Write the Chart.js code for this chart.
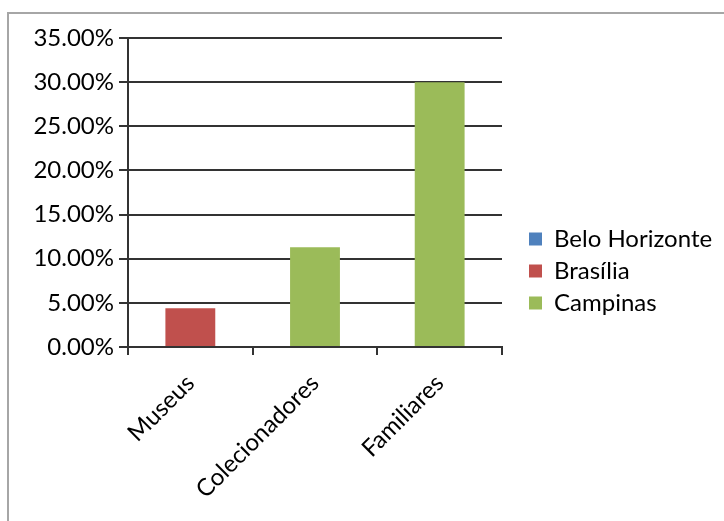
<!DOCTYPE html>
<html>
<head>
<meta charset="utf-8">
<script src="https://cdn.jsdelivr.net/npm/chart.js@4.4.1/dist/chart.umd.min.js"></script>
<style>
  html, body { margin: 0; padding: 0; background: #fff; overflow: hidden; }
  #frame { position: absolute; left: 7px; top: 12px; width: 800px; height: 600px;
           border: 2px solid #a6a6a6; box-sizing: border-box; }
  #wrap { position: absolute; left: 0; top: 0; width: 724px; height: 521px; }
</style>
</head>
<body>
<div id="frame"></div>
<div id="wrap"><canvas id="c" width="724" height="521"></canvas></div>
<script>
// Share of items by origin, per city (percent)
const categories = ['Museus', 'Colecionadores', 'Familiares'];
const seriesNames = ['Belo Horizonte', 'Brasília', 'Campinas'];
const beloHorizonte = [0, 0, 0];
const brasilia = [4.4, 0, 0];
const campinas = [0, 11.3, 30.0];
const yTicks = [0, 5, 10, 15, 20, 25, 30, 35];

const seriesColors = ['#4F81BD', '#C0504D', '#9BBB59'];
const axisColor = '#333333';
const TICK_FONT = { family: 'Lato, "Open Sans", sans-serif', size: 24 };
const LEGEND_FONT = { family: 'Lato, "Open Sans", sans-serif', size: 24 };

const datasets = [beloHorizonte, brasilia, campinas].map((vals, i) => ({
  label: seriesNames[i],
  data: vals,
  backgroundColor: seriesColors[i],
  borderWidth: 0,
  barPercentage: 0.4,
  categoryPercentage: 1.0
}));

// Leaves a little air between the plot and the legend column,
// and lets the legend use the full remaining width of the canvas
const legendOffset = {
  id: 'legendOffset',
  afterLayout(chart) {
    const lg = chart.legend;
    if (lg) {
      lg.left += 19;
      lg.right = chart.width;
      lg.width = lg.right - lg.left;
    }
  }
};

new Chart(document.getElementById('c'), {
  type: 'bar',
  data: { labels: categories, datasets },
  plugins: [legendOffset],
  options: {
    responsive: false,
    animation: false,
    layout: { padding: { left: 0, top: 38, right: 54.67, bottom: 17 } },
    plugins: {
      legend: {
        position: 'right',
        labels: { boxWidth: 13, boxHeight: 13, padding: 8, color: '#000', font: LEGEND_FONT }
      },
      tooltip: { enabled: false }
    },
    scales: {
      x: {
        stacked: true,
        grid: { offset: true, drawOnChartArea: false, drawTicks: true, tickLength: 8,
                color: axisColor, lineWidth: 2 },
        border: { color: axisColor, width: 2 },
        ticks: { minRotation: 45, maxRotation: 45, color: '#000', font: TICK_FONT, padding: 14 },
        afterFit: s => { s.height = 157; }
      },
      y: {
        stacked: true,
        min: yTicks[0],
        max: yTicks[yTicks.length - 1],
        afterBuildTicks: s => { s.ticks = yTicks.map(v => ({ value: v })); },
        ticks: { callback: v => v.toFixed(2) + '%', padding: 5, color: '#000', font: TICK_FONT },
        grid: { color: axisColor, lineWidth: 2, tickLength: 9 },
        border: { color: axisColor, width: 2 },
        afterFit: s => { s.width = 128; }
      }
    }
  }
});
</script>
</body>
</html>
